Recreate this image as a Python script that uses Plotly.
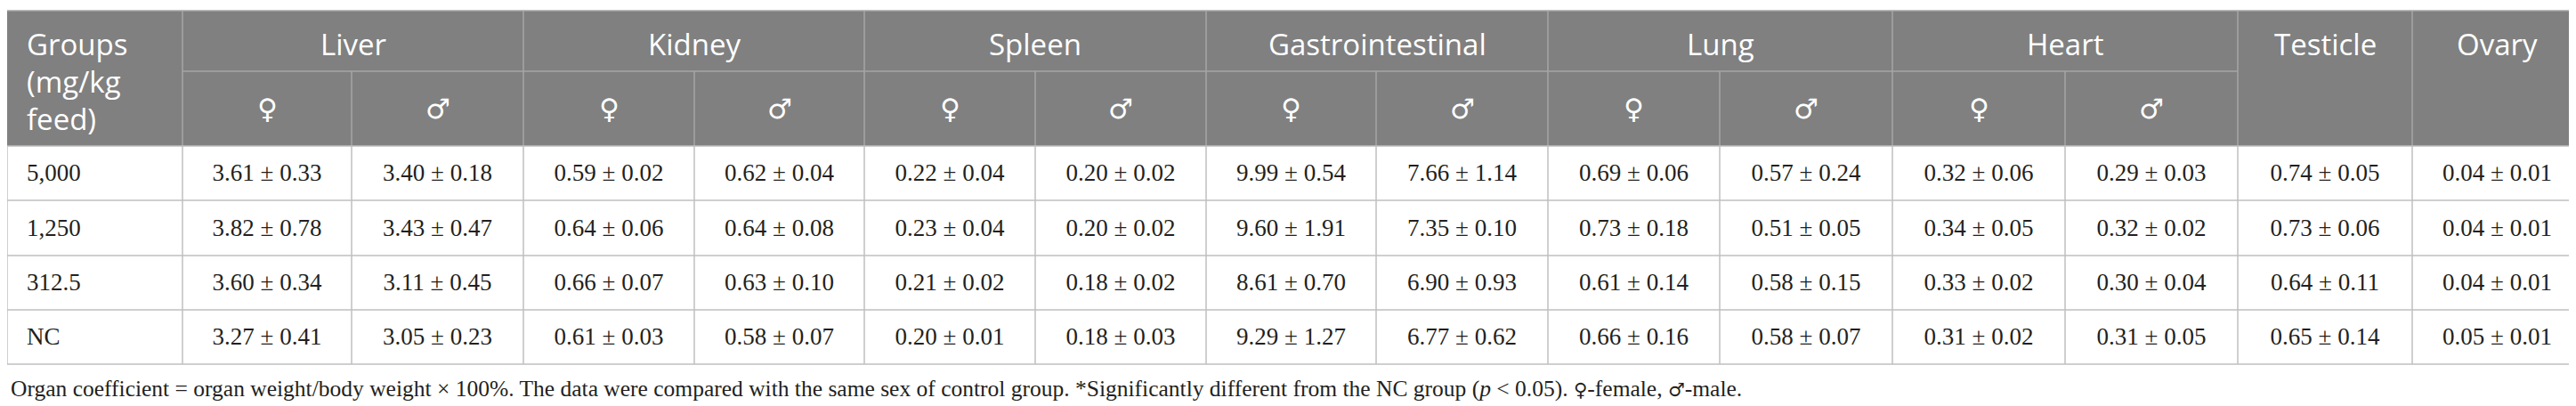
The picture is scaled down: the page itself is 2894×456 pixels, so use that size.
import plotly.graph_objects as go

# %% data
groups = ["5,000", "1,250", "312.5", "NC"]
organs = ["Liver", "Kidney", "Spleen", "Gastrointestinal", "Lung", "Heart"]
single_organs = ["Testicle", "Ovary"]
sexes = ["♀", "♂"]

# one list per value column, in table order (rows = groups)
liver_f_mean = [3.61, 3.82, 3.60, 3.27]
liver_f_sd = [0.33, 0.78, 0.34, 0.41]
liver_m_mean = [3.40, 3.43, 3.11, 3.05]
liver_m_sd = [0.18, 0.47, 0.45, 0.23]
kidney_f_mean = [0.59, 0.64, 0.66, 0.61]
kidney_f_sd = [0.02, 0.06, 0.07, 0.03]
kidney_m_mean = [0.62, 0.64, 0.63, 0.58]
kidney_m_sd = [0.04, 0.08, 0.10, 0.07]
spleen_f_mean = [0.22, 0.23, 0.21, 0.20]
spleen_f_sd = [0.04, 0.04, 0.02, 0.01]
spleen_m_mean = [0.20, 0.20, 0.18, 0.18]
spleen_m_sd = [0.02, 0.02, 0.02, 0.03]
gi_f_mean = [9.99, 9.60, 8.61, 9.29]
gi_f_sd = [0.54, 1.91, 0.70, 1.27]
gi_m_mean = [7.66, 7.35, 6.90, 6.77]
gi_m_sd = [1.14, 0.10, 0.93, 0.62]
lung_f_mean = [0.69, 0.73, 0.61, 0.66]
lung_f_sd = [0.06, 0.18, 0.14, 0.16]
lung_m_mean = [0.57, 0.51, 0.58, 0.58]
lung_m_sd = [0.24, 0.05, 0.15, 0.07]
heart_f_mean = [0.32, 0.34, 0.33, 0.31]
heart_f_sd = [0.06, 0.05, 0.02, 0.02]
heart_m_mean = [0.29, 0.32, 0.30, 0.31]
heart_m_sd = [0.03, 0.02, 0.04, 0.05]
testicle_mean = [0.74, 0.73, 0.64, 0.65]
testicle_sd = [0.05, 0.06, 0.11, 0.14]
ovary_mean = [0.04, 0.04, 0.04, 0.05]
ovary_sd = [0.01, 0.01, 0.01, 0.01]

SYM = "<span style=\"font-family:'DejaVu Sans';font-size:21px\">{}</span>"
footnote = ("Organ coefficient = organ weight/body weight × 100%. The data were compared with the same "
            "sex of control group. *Significantly different from the NC group (<i>p</i> < 0.05). "
            + SYM.format("♀") + "-female, " + SYM.format("♂") + "-male.")

columns = [
    (liver_f_mean, liver_f_sd), (liver_m_mean, liver_m_sd),
    (kidney_f_mean, kidney_f_sd), (kidney_m_mean, kidney_m_sd),
    (spleen_f_mean, spleen_f_sd), (spleen_m_mean, spleen_m_sd),
    (gi_f_mean, gi_f_sd), (gi_m_mean, gi_m_sd),
    (lung_f_mean, lung_f_sd), (lung_m_mean, lung_m_sd),
    (heart_f_mean, heart_f_sd), (heart_m_mean, heart_m_sd),
    (testicle_mean, testicle_sd), (ovary_mean, ovary_sd),
]

# %% layout
W, H = 2894, 456
col_edges = [0, 197, 387, 580, 772, 963, 1155, 1347, 1538, 1731, 1924, 2118, 2312, 2506, 2702, 2893]
y_top, y_sub, y_head = 4, 72, 156
row_edges = [156, 217, 279, 340, 401]

HEAD_BG = "#808080"
HEAD_LINE = "#a6a6a6"
BODY_LINE = "#bfbfbf"
SANS = "Open Sans"
SERIF = "Liberation Serif"

fig = go.Figure()

# body values as a text trace
xs, ys, texts = [], [], []
for j, (means, sds) in enumerate(columns):
    cx = (col_edges[j + 1] + col_edges[j + 2]) / 2
    for i in range(len(groups)):
        xs.append(cx)
        ys.append((row_edges[i] + row_edges[i + 1]) / 2 + 2)
        texts.append(f"{means[i]:.2f} ± {sds[i]:.2f}")

fig.add_trace(go.Scatter(
    x=xs, y=ys, text=texts, mode="text",
    textposition="middle center",
    textfont=dict(family=SERIF, size=27, color="#231f20"),
    hoverinfo="skip", showlegend=False,
))
fig.add_trace(go.Scatter(
    x=[22] * len(groups),
    y=[(row_edges[i] + row_edges[i + 1]) / 2 + 2 for i in range(len(groups))],
    text=groups, mode="text",
    textposition="middle right",
    textfont=dict(family=SERIF, size=27, color="#231f20"),
    hoverinfo="skip", showlegend=False,
))

shapes = []
# header background
shapes.append(dict(type="rect", x0=0, x1=col_edges[-1], y0=y_top, y1=y_head,
                   fillcolor=HEAD_BG, line_width=0, layer="below"))
# header lines
shapes.append(dict(type="line", x0=0, x1=col_edges[-1], y0=y_top, y1=y_top,
                   line=dict(color=HEAD_LINE, width=1.5)))
shapes.append(dict(type="line", x0=col_edges[1], x1=col_edges[13], y0=y_sub, y1=y_sub,
                   line=dict(color=HEAD_LINE, width=1.5)))
top_div = [col_edges[1], col_edges[3], col_edges[5], col_edges[7], col_edges[9],
           col_edges[11], col_edges[13], col_edges[14]]
for x in top_div:
    shapes.append(dict(type="line", x0=x, x1=x, y0=y_top, y1=y_head,
                       line=dict(color=HEAD_LINE, width=1.5)))
for k in range(2, 13, 2):
    x = col_edges[k]
    shapes.append(dict(type="line", x0=x, x1=x, y0=y_sub, y1=y_head,
                       line=dict(color=HEAD_LINE, width=1.5)))
# body lines
for y in row_edges:
    shapes.append(dict(type="line", x0=0, x1=col_edges[-1], y0=y, y1=y,
                       line=dict(color=BODY_LINE, width=1.5)))
for x in col_edges:
    shapes.append(dict(type="line", x0=x, x1=x, y0=row_edges[0], y1=row_edges[-1],
                       line=dict(color=BODY_LINE, width=1.5)))

annotations = []
head_font = dict(family=SANS, size=33, color="white")
sym_font = dict(family="DejaVu Sans", size=31, color="white")
# Groups cell (three lines)
for k, line in enumerate(["Groups", "(mg/kg", "feed)"]):
    annotations.append(dict(x=20, y=41 + k * 42, text=line, showarrow=False,
                            xanchor="left", yanchor="middle", font=head_font))
# organ titles
for k, organ in enumerate(organs):
    cx = (col_edges[1 + 2 * k] + col_edges[3 + 2 * k]) / 2
    annotations.append(dict(x=cx, y=41, text=organ, showarrow=False,
                            xanchor="center", yanchor="middle", font=head_font))
    for s, sex in enumerate(sexes):
        sx = (col_edges[1 + 2 * k + s] + col_edges[2 + 2 * k + s]) / 2
        annotations.append(dict(x=sx, y=114, text=sex, showarrow=False,
                                xanchor="center", yanchor="middle", font=sym_font))
for k, organ in enumerate(single_organs):
    cx = (col_edges[13 + k] + col_edges[14 + k]) / 2
    annotations.append(dict(x=cx, y=41, text=organ, showarrow=False,
                            xanchor="center", yanchor="middle", font=head_font))
# footnote
annotations.append(dict(x=2, y=428, text=footnote, showarrow=False,
                        xanchor="left", yanchor="middle",
                        font=dict(family=SERIF, size=25.5, color="#231f20")))

fig.update_layout(
    width=W, height=H,
    margin=dict(l=0, r=0, t=0, b=0),
    paper_bgcolor="white", plot_bgcolor="white",
    xaxis=dict(range=[0, W], visible=False, fixedrange=True),
    yaxis=dict(range=[H, 0], visible=False, fixedrange=True),
    shapes=shapes, annotations=annotations,
)

fig.write_html("out.html", config={"displayModeBar": False})
